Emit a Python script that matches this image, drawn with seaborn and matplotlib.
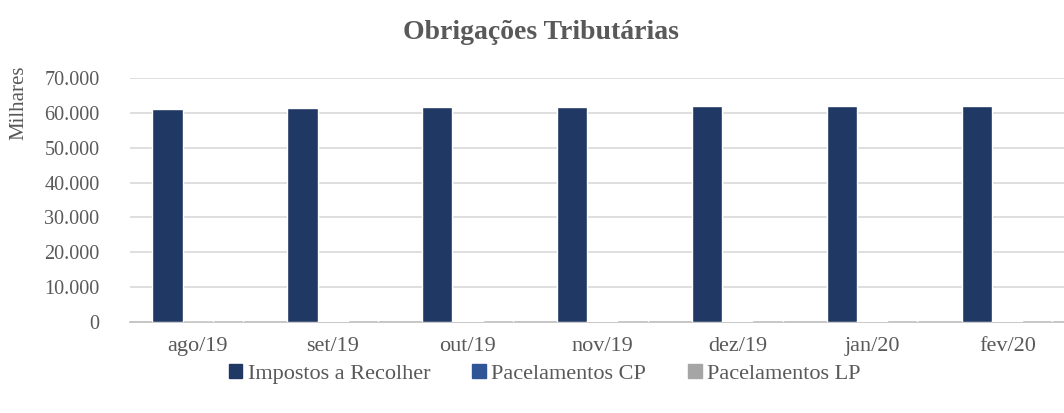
import numpy as np
import pandas as pd
import matplotlib
matplotlib.use('Agg')
import matplotlib.pyplot as plt
import seaborn as sns
from matplotlib.ticker import FuncFormatter, FixedLocator

# data (R$ milhares)
months = ['ago/19', 'set/19', 'out/19', 'nov/19', 'dez/19', 'jan/20', 'fev/20']
impostos = [61100, 61350, 61630, 61630, 61830, 61830, 61920]
parc_cp = [0, 300, 300, 300, 300, 300, 300]
parc_lp = [650, 650, 650, 650, 650, 650, 650]
series = ['Impostos a Recolher', 'Pacelamentos CP', 'Pacelamentos LP']
colors = ['#203864', '#2F5597', '#A5A5A5']

df = pd.DataFrame({'Mes': months, series[0]: impostos, series[1]: parc_cp, series[2]: parc_lp})
long = df.melt(id_vars='Mes', var_name='Serie', value_name='Valor')

sns.set_theme(style='white')
plt.rcParams['font.family'] = ['Liberation Serif', 'DejaVu Serif']
txt = '#595959'

fig = plt.figure(figsize=(10.64, 4.13), dpi=100)
ax = fig.add_axes([0.1222, 0.2203, 0.8881, 0.5908])
sns.barplot(data=long, x='Mes', y='Valor', hue='Serie', palette=colors,
            width=0.667, ax=ax, saturation=1, legend=True)
for p in ax.patches:
    p.set_zorder(3)

ax.set_ylim(0, 70000)
ax.set_xlim(-0.5, len(months) - 0.5)
ax.yaxis.set_major_locator(FixedLocator(np.arange(0, 70001, 10000)))
ax.yaxis.set_major_formatter(FuncFormatter(lambda v, p: f'{int(v):,}'.replace(',', '.')))
ax.grid(axis='y', color='#d9d9d9', lw=1.2)
ax.set_axisbelow(True)
for s in ['top', 'right', 'left']:
    ax.spines[s].set_visible(False)
ax.spines['bottom'].set_color('#bfbfbf')
ax.spines['bottom'].set_linewidth(1.2)
ax.spines['bottom'].set_zorder(2)

ax.tick_params(axis='y', length=0, labelsize=14.5, labelcolor=txt, pad=22)
ax.tick_params(axis='x', which='major', length=0, labelsize=16, labelcolor=txt, pad=11)
ax.set_xticks(np.arange(-0.5, len(months), 1), minor=True)
ax.tick_params(axis='x', which='minor', length=6, color='#bfbfbf', width=1.2)
ax.set_xlabel('')
ax.set_ylabel('Milhares', fontsize=15, color=txt)
ax.yaxis.set_label_coords(-0.108, 0.90)

fig.suptitle('Obrigações Tributárias', fontsize=20, fontweight='bold', color=txt, x=0.508, y=0.952)

ax.legend_.remove()
handles = [plt.Rectangle((0, 0), 1, 1, color=c) for c in colors]
fig.legend(handles, series, loc='center', bbox_to_anchor=(0.512, 0.094), ncol=3, frameon=False,
           prop={'family': ['Liberation Serif', 'DejaVu Serif'], 'size': 16}, labelcolor=txt,
           handlelength=0.6, handleheight=0.6, handletextpad=0.25, columnspacing=1.9)

fig.savefig('out.png', dpi=100)
